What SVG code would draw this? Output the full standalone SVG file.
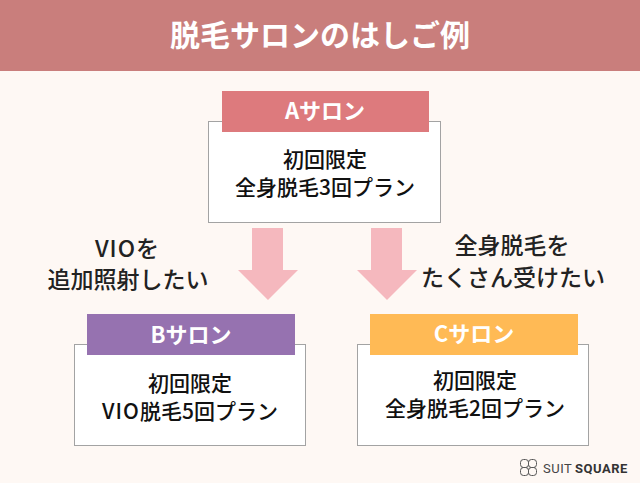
<svg xmlns="http://www.w3.org/2000/svg" width="640" height="483" viewBox="0 0 640 483">
<style>
text{font-family:"Noto Sans CJK JP","Noto Sans",sans-serif;text-anchor:middle;font-weight:500}
.b{fill:#fff;stroke:#a3a3a3;stroke-width:1}
.t{fill:#111;font-size:21px}
.h{fill:#fff;font-size:22px;font-weight:700}
.l{fill:#222;font-size:23px}
.a{fill:#f5b8be}
.s{letter-spacing:1px}
.w{font-family:Roboto,sans-serif;font-size:13px;fill:#444;text-anchor:start;font-weight:400;letter-spacing:.5px}
</style>
<rect width="640" height="483" fill="#fef8f4"/>
<g id="title"><rect width="640" height="71" fill="#c97e7c"/><text x="320" y="46" fill="#fff" font-size="30" style="font-weight:700">脱毛サロンのはしご例</text></g>
<g id="connectors">
<polygon class="a" points="252,228 283,228 283,270 298,270 268,300 238,270 252,270"/>
<polygon class="a" points="371,228 402,228 402,270 417,270 387,300 357,270 371,270"/>
</g>
<g id="salon-a"><rect class="b" x="208.500" y="121.500" width="232" height="101"/><rect x="222" y="91" width="207" height="41" fill="#dd7a7d"/><text class="h" x="325" y="119">Aサロン</text><text class="t" x="325" y="167">初回限定</text><text class="t" x="325" y="195">全身脱毛3回プラン</text></g>
<g id="salon-b"><rect class="b" x="74.500" y="344.500" width="231" height="101"/><rect x="87" y="314" width="208" height="41" fill="#9672b0"/><text class="h" x="191" y="343">Bサロン</text><text class="t" x="190" y="391">初回限定</text><text class="t" x="190" y="419"><tspan class="s">VIO</tspan>脱毛5回プラン</text></g>
<g id="salon-c"><rect class="b" x="357.500" y="344.500" width="231" height="101"/><rect x="370" y="314" width="208" height="41" fill="#ffba55"/><text class="h" x="474" y="342">Cサロン</text><text class="t" x="475" y="388">初回限定</text><text class="t" x="475" y="416">全身脱毛2回プラン</text></g>
<g id="label-left"><text class="l" x="127" y="257"><tspan class="s">VIO</tspan>を</text><text class="l" x="128" y="288">追加照射したい</text></g>
<g id="label-right"><text class="l" x="512" y="254">全身脱毛を</text><text class="l" x="513" y="286">たくさん受けたい</text></g>
<g id="logo" fill="none" stroke="#555" stroke-width="1"><rect x="520.500" y="459.500" width="8" height="8" rx="3"/><rect x="528.500" y="459.500" width="8" height="8" rx="3"/><rect x="520.500" y="467.500" width="8" height="8" rx="3"/><rect x="528.500" y="467.500" width="8" height="8" rx="3"/></g>
<text class="w" x="543" y="473">SUIT</text>
<text class="w" x="575" y="473" style="font-weight:700;fill:#333">SQUARE</text>
</svg>
